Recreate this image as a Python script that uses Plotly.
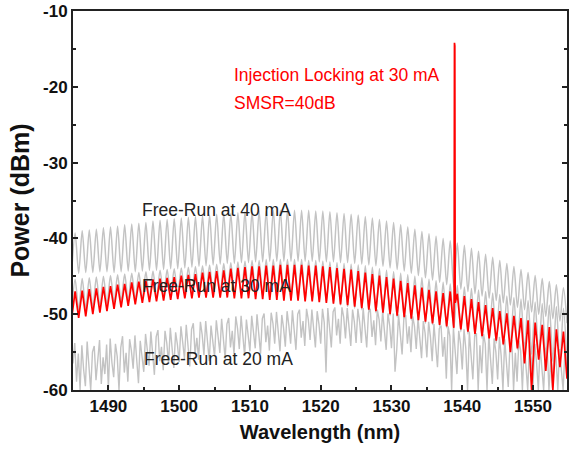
import numpy as np
import plotly.graph_objects as go

# ---------------- data ----------------
# fringe grids (nm): peaks at 1485.3 + k, troughs at 1484.8 + k
peak_nm = np.arange(1485.3, 1554.4, 1.0)      # 70 values
trough_nm = np.arange(1484.8, 1554.9, 1.0)    # 71 values

fr40_peaks = [-39.3, -39.0, -38.9, -38.8, -38.6, -38.5, -38.4, -38.2, -38.1, -38.0,
              -37.9, -37.7, -37.6, -37.5, -37.4, -37.3, -37.2, -37.1, -37.0, -36.9,
              -36.8, -36.7, -36.7, -36.6, -36.5, -36.5, -36.4, -36.4, -36.3, -36.3,
              -36.3, -36.3, -36.3, -36.3, -36.4, -36.4, -36.5, -36.6, -36.7, -36.8,
              -36.9, -37.1, -37.3, -37.5, -37.7, -37.9, -38.2, -38.5, -38.8, -39.1,
              -39.4, -39.7, -40.0, -40.3, -40.6, -40.9, -41.3, -41.7, -42.1, -42.5,
              -42.9, -43.3, -43.7, -44.1, -44.5, -44.9, -45.3, -45.7, -46.1, -46.5]
fr40_troughs = [-44.6,
                -44.6, -44.5, -44.5, -44.4, -44.4, -44.5, -44.4, -44.3, -44.4, -44.3,
                -44.2, -44.2, -44.1, -44.0, -44.0, -43.9, -43.8, -43.7, -43.6, -43.5,
                -43.4, -43.3, -43.3, -43.2, -43.2, -43.1, -43.1, -43.0, -43.0, -43.0,
                -43.0, -43.0, -43.0, -43.0, -43.1, -43.1, -43.1, -43.2, -43.2, -43.3,
                -43.4, -43.5, -43.6, -43.7, -43.9, -44.1, -44.3, -44.6, -44.9, -45.2,
                -45.5, -45.8, -46.1, -46.4, -46.7, -47.0, -47.3, -47.6, -47.9, -48.2,
                -48.5, -48.8, -49.1, -49.4, -49.7, -50.0, -50.3, -50.6, -50.9, -51.2]

fr30_peaks = [-45.4, -45.3, -45.2, -45.1, -45.0, -44.9, -44.8, -44.7, -44.6, -44.5,
              -44.4, -44.3, -44.2, -44.1, -44.0, -43.9, -43.8, -43.7, -43.6, -43.5,
              -43.4, -43.3, -43.2, -43.1, -43.0, -42.9, -42.9, -42.8, -42.8, -42.8,
              -42.8, -42.8, -42.8, -42.9, -42.9, -43.0, -43.1, -43.2, -43.3, -43.4,
              -43.5, -43.6, -43.8, -44.0, -44.2, -44.4, -44.6, -44.8, -45.0, -45.2,
              -45.4, -45.6, -45.8, -46.0, -46.2, -46.4, -46.6, -46.8, -47.0, -47.2,
              -47.4, -47.6, -47.8, -48.0, -48.2, -48.4, -48.6, -48.8, -49.0, -49.2]
fr30_troughs = [-49.6,
                -49.5, -49.3, -49.1, -48.9, -48.7, -48.5, -48.3, -48.2, -48.1, -48.0,
                -47.9, -47.8, -47.7, -47.6, -47.5, -47.4, -47.4, -47.3, -47.3, -47.3,
                -47.3, -47.3, -47.4, -47.4, -47.5, -47.5, -47.6, -47.6, -47.7, -47.8,
                -47.9, -48.0, -48.1, -48.2, -48.3, -48.4, -48.6, -48.8, -49.0, -49.2,
                -49.4, -49.6, -49.8, -50.0, -50.2, -50.4, -50.6, -50.8, -51.0, -51.2,
                -51.4, -51.6, -51.8, -52.0, -52.3, -52.6, -52.9, -53.2, -53.5, -53.8,
                -54.1, -54.4, -54.7, -55.0, -55.3, -55.6, -55.9, -56.2, -56.5, -56.8]

inj_peaks = [-47.0, -46.9, -46.7, -46.6, -46.4, -46.3, -46.1, -46.0, -45.8, -45.7,
             -45.6, -45.4, -45.3, -45.2, -45.1, -44.9, -44.8, -44.7, -44.5, -44.4,
             -44.3, -44.2, -44.0, -43.9, -43.8, -43.7, -43.7, -43.6, -43.6, -43.5,
             -43.5, -43.5, -43.5, -43.6, -43.6, -43.7, -43.8, -43.9, -44.0, -44.1,
             -44.3, -44.5, -44.7, -44.9, -45.1, -45.3, -45.6, -45.9, -46.2, -46.5,
             -46.8, -47.0, -47.2, -47.0, -47.3, -47.6, -48.0, -48.4, -48.8, -49.2,
             -49.6, -49.9, -50.2, -50.5, -50.8, -51.1, -51.4, -51.7, -52.0, -52.3]
inj_troughs = [-50.6,
               -50.5, -50.3, -50.0, -49.8, -49.6, -49.3, -49.1, -48.9, -48.7, -48.5,
               -48.4, -48.3, -48.2, -48.1, -48.0, -47.9, -47.9, -47.8, -47.8, -47.8,
               -47.8, -47.8, -47.9, -47.9, -47.9, -48.0, -48.0, -48.1, -48.1, -48.2,
               -48.2, -48.2, -48.3, -48.3, -48.4, -48.5, -48.6, -48.7, -48.8, -49.0,
               -49.2, -49.4, -49.6, -49.8, -50.0, -50.2, -50.4, -50.6, -50.8, -51.0,
               -51.2, -51.4, -51.6, -51.8, -52.0, -52.3, -52.6, -52.9, -53.2, -53.5,
               -54.0, -55.0, -54.5, -56.5, -60.0, -56.0, -57.5, -60.0, -57.0, -58.5]
# injection-locked mode (SMSR = 40 dB)
spike_nm = [1538.85, 1538.9, 1538.95, 1539.0]
spike_db = [-48.0, -14.2, -14.6, -48.5]

# free-run at 20 mA: noisy trace sampled every 0.25 nm from 1485 nm
fr20_nm = np.arange(1485.0, 1554.9, 0.25)
fr20_db = [
    -56.5, -53.8, -58.9, -55.2, -60.0, -54.1, -57.3, -59.5, -53.6, -56.8, -60.0, -55.0, -54.2, -58.7, -56.1, -53.4, -59.2, -55.7, -57.9, -54.0,
    -59.8, -53.2, -56.4, -58.3, -53.9, -55.6, -60.0, -54.4, -52.9, -57.7, -55.1, -58.9, -53.3, -54.8, -57.2, -52.8, -56.0, -59.1, -53.5, -55.3,
    -57.6, -52.6, -54.9, -56.8, -52.3, -55.7, -58.0, -53.0, -52.1, -56.2, -54.3, -57.4, -52.2, -53.8, -56.5, -51.8, -55.0, -57.1, -52.4, -54.0,
    -56.3, -51.6, -53.7, -55.9, -51.4, -54.6, -56.9, -52.0, -51.2, -55.3, -53.1, -56.0, -51.0, -52.7, -55.4, -50.9, -54.2, -56.2, -51.5, -53.3,
    -55.6, -50.8, -52.9, -55.1, -50.6, -53.8, -55.9, -51.3, -50.5, -54.4, -52.2, -55.3, -50.3, -51.9, -54.6, -50.2, -53.4, -55.5, -50.7, -52.5,
    -54.9, -50.2, -52.1, -54.5, -50.0, -53.0, -55.2, -50.6, -49.9, -53.7, -51.5, -54.8, -49.8, -51.2, -53.9, -49.7, -52.7, -54.9, -50.1, -51.8,
    -54.3, -49.6, -51.5, -53.9, -49.5, -52.4, -54.7, -50.0, -49.4, -53.1, -50.9, -54.2, -49.3, -50.7, -53.4, -49.4, -52.2, -54.4, -49.6, -51.3,
    -53.9, -49.3, -51.1, -57.7, -49.2, -52.0, -54.4, -49.7, -49.1, -52.8, -50.6, -53.9, -49.1, -50.4, -53.2, -49.2, -51.9, -54.2, -49.4, -51.0,
    -53.8, -49.3, -51.0, -53.8, -49.2, -52.0, -54.4, -49.8, -49.3, -53.0, -50.8, -54.1, -49.4, -50.7, -53.6, -49.6, -52.3, -54.7, -49.9, -51.5,
    -54.5, -49.9, -57.6, -54.6, -50.0, -52.8, -55.3, -50.5, -50.1, -53.9, -51.6, -55.0, -50.3, -51.6, -54.6, -50.5, -53.3, -55.8, -50.9, -52.5,
    -55.7, -51.0, -53.0, -56.2, -51.3, -54.1, -57.0, -51.9, -51.5, -55.6, -53.0, -58.5, -51.6, -52.9, -60.0, -51.8, -54.7, -57.9, -52.2, -53.9,
    -57.3, -52.0, -54.5, -60.0, -52.3, -55.4, -58.6, -52.9, -52.5, -60.0, -54.1, -57.8, -52.6, -53.9, -60.0, -52.8, -55.8, -59.2, -53.2, -55.0,
    -58.6, -53.0, -55.5, -60.0, -53.3, -56.4, -59.6, -53.8, -53.4, -60.0, -55.1, -58.9, -53.5, -54.8, -60.0, -53.7, -56.8, -60.0, -54.1, -55.9,
    -59.5, -53.9, -56.4, -60.0, -54.2, -57.3, -60.0, -54.6, -54.3, -60.0, -56.0, -59.7, -54.4, -55.7, -60.0, -54.6, -57.6, -60.0, -55.0, -56.8,
]

x_ticks = [1490, 1500, 1510, 1520, 1530, 1540, 1550]
x_ticklabels = ["1490", "1500", "1510", "1520", "1530", "1540", "1550"]
y_ticks = [-60, -50, -40, -30, -20, -10]
y_ticklabels = ["-60", "-50", "-40", "-30", "-20", "-10"]

labels = {
    "inj": "Injection Locking at 30 mA",
    "smsr": "SMSR=40dB",
    "fr40": "Free-Run at 40 mA",
    "fr30": "Free-Run at 30 mA",
    "fr20": "Free-Run at 20 mA",
}


def zigzag(peaks, troughs, extra_x=(), extra_y=()):
    xs = list(trough_nm) + list(peak_nm) + list(extra_x)
    ys = list(troughs) + list(peaks) + list(extra_y)
    order = np.argsort(xs, kind="stable")
    return [xs[i] for i in order], [ys[i] for i in order]


GRAY = "#c3c3c3"
RED = "#ff0000"
FONT = "Liberation Sans, Arial, sans-serif"

fig = go.Figure()
x20 = list(fr20_nm[:len(fr20_db)])
fig.add_trace(go.Scatter(x=x20, y=fr20_db, mode="lines",
                         line=dict(color=GRAY, width=1.4), hoverinfo="skip"))
x40, y40 = zigzag(fr40_peaks, fr40_troughs)
fig.add_trace(go.Scatter(x=x40, y=y40, mode="lines",
                         line=dict(color=GRAY, width=1.5, shape="spline", smoothing=0.8),
                         hoverinfo="skip"))
x30, y30 = zigzag(fr30_peaks, fr30_troughs)
fig.add_trace(go.Scatter(x=x30, y=y30, mode="lines",
                         line=dict(color=GRAY, width=1.5, shape="spline", smoothing=0.8),
                         hoverinfo="skip"))
xr, yr = zigzag(inj_peaks, inj_troughs, spike_nm, spike_db)
fig.add_trace(go.Scatter(x=xr, y=yr, mode="lines",
                         line=dict(color=RED, width=1.7), hoverinfo="skip"))

ann_font_red = dict(family=FONT, size=17.5, color=RED)
ann_font_dark = dict(family=FONT, size=17.5, color="#222222")
fig.add_annotation(x=1507.5, y=-18.5, text=labels["inj"], showarrow=False,
                   xanchor="left", yanchor="middle", font=ann_font_red)
fig.add_annotation(x=1507.5, y=-22.2, text=labels["smsr"], showarrow=False,
                   xanchor="left", yanchor="middle", font=ann_font_red)
fig.add_annotation(x=1494.5, y=-36.2, text=labels["fr40"], showarrow=False,
                   xanchor="left", yanchor="middle", font=ann_font_dark)
fig.add_annotation(x=1494.5, y=-46.3, text=labels["fr30"], showarrow=False,
                   xanchor="left", yanchor="middle", font=ann_font_dark)
fig.add_annotation(x=1494.7, y=-55.9, text=labels["fr20"], showarrow=False,
                   xanchor="left", yanchor="middle", font=ann_font_dark)

axis_common = dict(
    showgrid=False, zeroline=False, ticks="inside", ticklen=5, tickwidth=1.5,
    tickcolor="#222222", linecolor="#222222", linewidth=2,
    tickfont=dict(family=FONT, size=17, color="#111111"),
)
fig.update_xaxes(
    range=[1485, 1554.8], tickmode="array", tickvals=x_ticks,
    ticktext=["<b>%s</b>" % t for t in x_ticklabels], mirror=True,
    minor=dict(tick0=1485, dtick=5, ticks="inside", ticklen=3, tickwidth=1.5,
               tickcolor="#222222", showgrid=False),
    title=dict(text="<b>Wavelength (nm)</b>", standoff=10,
               font=dict(family=FONT, size=20, color="#111111")),
    **axis_common,
)
fig.update_yaxes(
    range=[-60, -10], tickmode="array", tickvals=y_ticks,
    ticktext=["<b>%s</b>" % t for t in y_ticklabels], mirror="ticks",
    minor=dict(tick0=-60, dtick=5, ticks="inside", ticklen=3, tickwidth=1.5,
               tickcolor="#222222", showgrid=False),
    title=dict(text="<b>Power (dBm)</b>", standoff=6,
               font=dict(family=FONT, size=25, color="#111111")),
    **axis_common,
)
fig.update_layout(
    width=569, height=449,
    margin=dict(l=73, r=0, t=11, b=59),
    paper_bgcolor="white", plot_bgcolor="white",
    showlegend=False,
)
fig.write_html("out.html")
